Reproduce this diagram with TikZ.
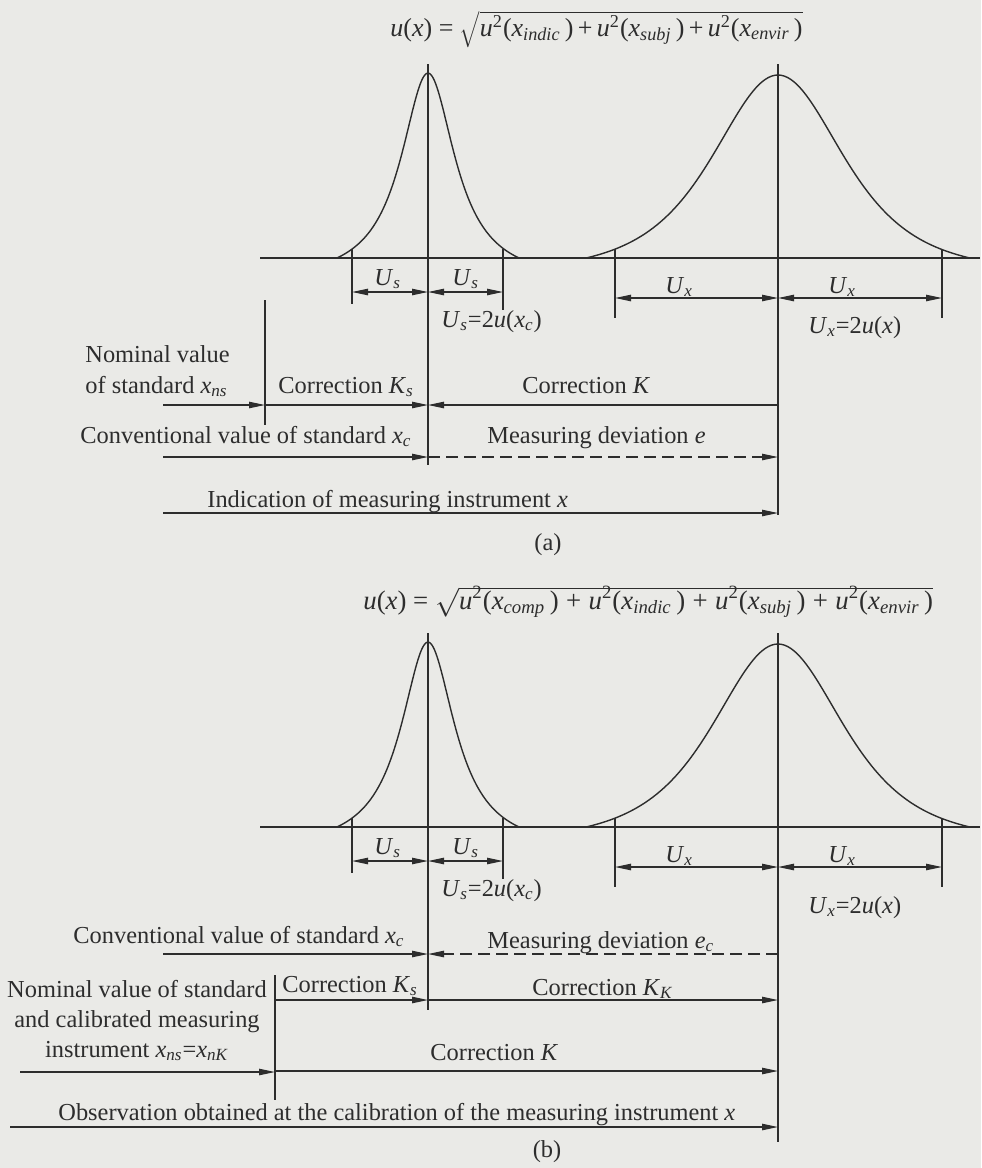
\documentclass[tikz,border=0pt]{standalone}
\usepackage{fontspec}
\setmainfont{Liberation Serif}
\usetikzlibrary{arrows.meta}

\definecolor{paper}{RGB}{234,234,231}
\definecolor{ink}{RGB}{45,45,45}

\newcommand{\mv}[1]{\textit{#1}}
\newcommand{\idx}[1]{\textsubscript{\textit{#1}}}
\newcommand{\usq}[1]{\textit{u}\textsuperscript{2}(\textit{x}\idx{#1}\,)}
\newcommand{\rt}[1]{$\sqrt{\rule[-3pt]{0pt}{11.2pt}\smash{\hbox{#1}}}$}

\tikzset{
  lbl/.style={font=\fontsize{12.2}{14}\selectfont, inner sep=0pt, anchor=base west, text=ink},
  frm/.style={font=\fontsize{13.4}{15}\selectfont, inner sep=0pt, anchor=base west, text=ink},
  axis/.style={ink, line width=0.7pt},
  arr/.style={ink, line width=0.6pt, -{Triangle[length=8pt,width=3.2pt]}},
  dimarr/.style={ink, line width=0.6pt, {Triangle[length=8pt,width=3.2pt]}-{Triangle[length=8pt,width=3.2pt]}},
}

\begin{document}
\begin{tikzpicture}[x=0.5pt, y=-0.5pt]
    \fill[paper] (0,0) rectangle (981,1168);
    \useasboundingbox (0,0) rectangle (981,1168);

    % the two distributions, shared by (a) and (b)
    \foreach \by/\p/\ux in {258/a/75, 827/b/86} {
        \draw[axis] (260,\by) -- (980,\by);
        \draw[axis] (428,\by-194) -- (428,\by);
        \draw[axis] (778,\by-194) -- (778,\by);
        \draw[axis] plot[domain=-91:91, samples=91, smooth]
            ({428+\x},{\by-209.3/(1+(\x/33)*(\x/33))+24.3});
        \draw[axis] plot[domain=-192:192, samples=121, smooth]
            ({778+\x},{\by-198.7/((1+(\x/120)*(\x/120))*(1+(\x/120)*(\x/120)))+15.7});
        \draw[axis] (352,\by-9) -- (352,\by+46);
        \draw[axis] (503,\by-9) -- (503,\by+52);
        \draw[axis] (615,\by-9) -- (615,\by+60);
        \draw[axis] (942,\by-9) -- (942,\by+60);
        \draw[dimarr] (352,\by+34) -- (428,\by+34);
        \draw[dimarr] (428,\by+34) -- (503,\by+34);
        \draw[dimarr] (615,\by+40) -- (778,\by+40);
        \draw[dimarr] (778,\by+40) -- (942,\by+40);
        \node[lbl] (us1\p) at (374,\by+27) {\mv{U}\idx{s}};
        \node[lbl] (us2\p) at (452,\by+27) {\mv{U}\idx{s}};
        \node[lbl] (ux1\p) at (665,\by+35) {\mv{U}\idx{x}};
        \node[lbl] (ux2\p) at (828,\by+35) {\mv{U}\idx{x}};
        \node[lbl] (usd\p) at (441,\by+69) {\mv{U}\idx{s}=2\mv{u}(\mv{x}\idx{c})};
        \node[lbl] (uxd\p) at (808,\by+\ux) {\mv{U}\idx{x}=2\mv{u}(\mv{x})};
    }

    % (a)
    \node[frm, font=\fontsize{13}{15}\selectfont] (fa) at (390,36)
        {\mv{u}(\mv{x}) = \rt{\usq{indic}\,+\,\usq{subj}\,+\,\usq{envir}}};
    \draw[axis] (428,258) -- (428,465);
    \draw[axis] (778,258) -- (778,515);
    \draw[axis] (265,300) -- (265,425);
    \node[lbl] (noma) at (85,362) {Nominal value};
    \node[lbl] (noma2) at (85,393) {of standard \mv{x}\idx{ns}};
    \node[lbl] (ksa) at (278,393) {Correction \mv{K}\idx{s}};
    \node[lbl] (ka) at (522,393) {Correction \mv{K}};
    \draw[arr] (163,405) -- (265,405);
    \draw[arr] (265,405) -- (428,405);
    \draw[arr] (778,405) -- (428,405);
    \node[lbl] (xca) at (80,443) {Conventional value of standard \mv{x}\idx{c}};
    \node[lbl] (ea) at (487,443) {Measuring deviation \mv{e}};
    \draw[arr] (163,457) -- (428,457);
    \draw[arr, dashed, dash pattern=on 6pt off 3pt] (428,457) -- (778,457);
    \node[lbl] (ind) at (207,507) {Indication of measuring instrument \mv{x}};
    \draw[arr] (163,513) -- (778,513);
    \node[lbl, anchor=center] (capa) at (548,545) {(a)};

    % (b)
    \node[frm] (fb) at (363,609)
        {\mv{u}(\mv{x}) = \rt{\usq{comp}\;+\;\usq{indic}\;+\;\usq{subj}\;+\;\usq{envir}}};
    \draw[axis] (428,827) -- (428,1010);
    \draw[axis] (778,827) -- (778,1142);
    \draw[axis] (275,975) -- (275,1100);
    \node[lbl] (xcb) at (73,943) {Conventional value of standard \mv{x}\idx{c}};
    \node[lbl] (eb) at (487,948) {Measuring deviation \mv{e}\idx{c}};
    \draw[arr] (163,954) -- (428,954);
    \draw[arr, dashed, dash pattern=on 6pt off 3pt] (778,954) -- (428,954);
    \node[lbl] (ksb) at (282,992) {Correction \mv{K}\idx{s}};
    \node[lbl] (kkb) at (532,995) {Correction \mv{K}\idx{K}};
    \draw[arr] (275,1000) -- (428,1000);
    \draw[arr] (428,1000) -- (778,1000);
    \node[lbl, anchor=base] (nomb) at (137,997) {Nominal value of standard};
    \node[lbl, anchor=base] (nomb2) at (137,1027) {and calibrated measuring};
    \node[lbl, anchor=base] (nomb3) at (137,1057) {instrument \mv{x}\idx{ns}=\mv{x}\idx{nK}};
    \draw[arr] (20,1072) -- (275,1072);
    \node[lbl] (kb) at (430,1060) {Correction \mv{K}};
    \draw[arr] (275,1071) -- (778,1071);
    \node[lbl] (obs) at (58,1120) {Observation obtained at the calibration of the measuring instrument \mv{x}};
    \draw[arr] (10,1127) -- (778,1127);
    \node[lbl, anchor=center] (capb) at (547,1152) {(b)};
\end{tikzpicture}
\end{document}
